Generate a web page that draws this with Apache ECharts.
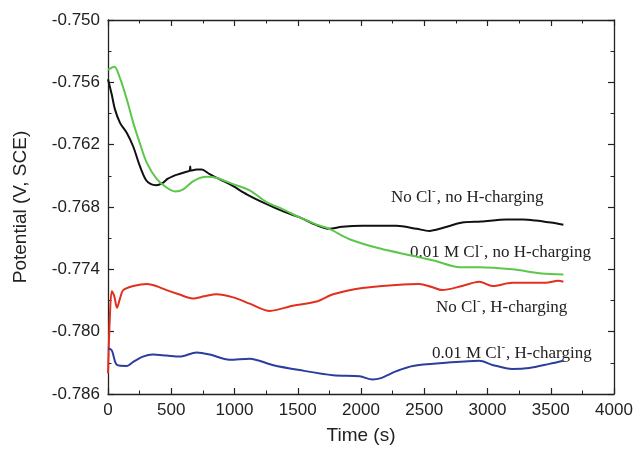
<!DOCTYPE html>
<html><head><meta charset="utf-8">
<script src="https://cdn.jsdelivr.net/npm/echarts@6/dist/echarts.min.js"></script>
<style>html,body{margin:0;padding:0;background:#fff}#c{width:636px;height:450px}</style>
</head><body><div id="c"></div>
<script>
// Time (s), Potential (V, SCE)
const blackNoClNoH = [[0,-0.7557],[30,-0.7572],[55,-0.7586],[95,-0.7599],[150,-0.7609],[200,-0.7622],[250,-0.7640],[300,-0.7654],[340,-0.7658],[380,-0.7659],[430,-0.7657],[470,-0.7653],[520,-0.7650],[570,-0.7648],[620,-0.7646],[645,-0.7645],[650,-0.7641],[655,-0.7645],[700,-0.7644],[740,-0.7644],[800,-0.7648],[860,-0.7652],[930,-0.7656],[990,-0.7660],[1100,-0.7668],[1250,-0.7677],[1400,-0.7685],[1515,-0.7690],[1640,-0.7697],[1750,-0.7701],[1850,-0.7699],[2010,-0.7698],[2150,-0.7698],[2280,-0.7698],[2440,-0.7701],[2540,-0.7703],[2650,-0.7700],[2800,-0.7695],[2950,-0.7694],[3150,-0.7692],[3280,-0.7692],[3380,-0.7693],[3500,-0.7695],[3600,-0.7697]];
const greenClNoH = [[0,-0.7548],[50,-0.7545],[95,-0.7556],[150,-0.7577],[200,-0.7599],[250,-0.7618],[305,-0.7637],[385,-0.7653],[460,-0.7661],[530,-0.7665],[595,-0.7663],[675,-0.7655],[780,-0.7651],[860,-0.7652],[990,-0.7658],[1120,-0.7664],[1250,-0.7675],[1380,-0.7682],[1515,-0.7690],[1650,-0.7697],[1750,-0.7701],[1910,-0.7711],[2150,-0.7720],[2410,-0.7727],[2590,-0.7732],[2780,-0.7738],[2935,-0.7738],[3195,-0.7740],[3430,-0.7744],[3600,-0.7745]];
const redNoClH = [[0,-0.7840],[15,-0.7785],[30,-0.7761],[50,-0.7766],[71,-0.7777],[95,-0.7768],[120,-0.7760],[200,-0.7756],[310,-0.7754],[380,-0.7756],[463,-0.7760],[560,-0.7764],[670,-0.7768],[760,-0.7766],[858,-0.7764],[990,-0.7767],[1120,-0.7773],[1280,-0.7780],[1460,-0.7775],[1650,-0.7771],[1780,-0.7764],[2010,-0.7758],[2280,-0.7755],[2460,-0.7754],[2560,-0.7757],[2640,-0.7760],[2800,-0.7756],[2935,-0.7752],[3040,-0.7756],[3195,-0.7753],[3460,-0.7753],[3560,-0.7751],[3600,-0.7752]];
const blueClH = [[0,-0.7816],[30,-0.7818],[71,-0.7832],[150,-0.7833],[200,-0.7829],[276,-0.7824],[355,-0.7822],[463,-0.7823],[568,-0.7824],[700,-0.7820],[805,-0.7822],[960,-0.7827],[1120,-0.7826],[1300,-0.7832],[1515,-0.7837],[1780,-0.7842],[1990,-0.7843],[2090,-0.7846],[2150,-0.7845],[2280,-0.7838],[2410,-0.7833],[2670,-0.7830],[2935,-0.7828],[3040,-0.7832],[3195,-0.7836],[3330,-0.7835],[3490,-0.7831],[3600,-0.7828]];

const xMin = 0, xMax = 4000, xStep = 500;
const yMin = -0.786, yMax = -0.750, yStep = 0.006;
const xTitle = 'Time (s)', yTitle = 'Potential (V, SCE)';

const chart = echarts.init(document.getElementById('c'), null, {renderer:'canvas'});
const axisCommon = {
  axisLine:{show:true, onZero:false, lineStyle:{color:'#222', width:1.3}},
  axisTick:{show:true, inside:true, length:6, lineStyle:{color:'#222', width:1.2}},
  minorTick:{show:true, splitNumber:2, length:3.5, lineStyle:{color:'#222', width:1}},
  splitLine:{show:false}
};
const annoFont = 'Liberation Serif';
function anno(x, y, pre, post) {
  return {type:'text', x:x, y:y, style:{
    text:'{a|' + pre + 'Cl}{s|-}{a|, ' + post + '}',
    rich:{a:{fontFamily:annoFont, fontSize:17, fill:'#222', lineHeight:20, verticalAlign:'bottom'},
          s:{fontFamily:annoFont, fontSize:11, fill:'#222', lineHeight:20, verticalAlign:'top', padding:[0,1,0,0]}}
  }};
}
chart.setOption({
  animation:false,
  backgroundColor:'#fff',
  grid:{left:108, right:22, top:20, bottom:54, show:false},
  xAxis:[
    Object.assign({type:'value', min:xMin, max:xMax, interval:xStep, position:'bottom',
      name:xTitle, nameLocation:'middle', nameGap:32,
      nameTextStyle:{fontFamily:'Liberation Sans', fontSize:19, color:'#222'},
      axisLabel:{fontFamily:'Liberation Sans', fontSize:17, color:'#222', margin:8,
        formatter:v=>String(Math.round(v))}}, axisCommon),
    Object.assign({type:'value', min:xMin, max:xMax, interval:xStep, position:'top',
      axisLabel:{show:false}}, axisCommon)
  ],
  yAxis:[
    Object.assign({type:'value', min:yMin, max:yMax, interval:yStep, position:'left',
      name:yTitle, nameLocation:'middle', nameGap:78, nameRotate:90,
      nameTextStyle:{fontFamily:'Liberation Sans', fontSize:19, color:'#222'},
      axisLabel:{fontFamily:'Liberation Sans', fontSize:17, color:'#222', margin:8,
        formatter:v=>v.toFixed(3)}}, axisCommon),
    Object.assign({type:'value', min:yMin, max:yMax, interval:yStep, position:'right',
      axisLabel:{show:false}}, axisCommon)
  ],
  series:[
    {type:'line', data:blackNoClNoH, showSymbol:false, smooth:0.3, lineStyle:{color:'#111', width:2}},
    {type:'line', data:greenClNoH, showSymbol:false, smooth:0.3, lineStyle:{color:'#5cc74a', width:2}},
    {type:'line', data:redNoClH, showSymbol:false, smooth:0.3, lineStyle:{color:'#e2301f', width:2}},
    {type:'line', data:blueClH, showSymbol:false, smooth:0.3, lineStyle:{color:'#2b3e9e', width:2}}
  ],
  graphic:[
    anno(391, 186, 'No ', 'no H-charging'),
    anno(410, 241, '0.01 M ', 'no H-charging'),
    anno(436, 296, 'No ', 'H-charging'),
    anno(432, 342, '0.01 M ', 'H-charging')
  ]
});
</script></body></html>
